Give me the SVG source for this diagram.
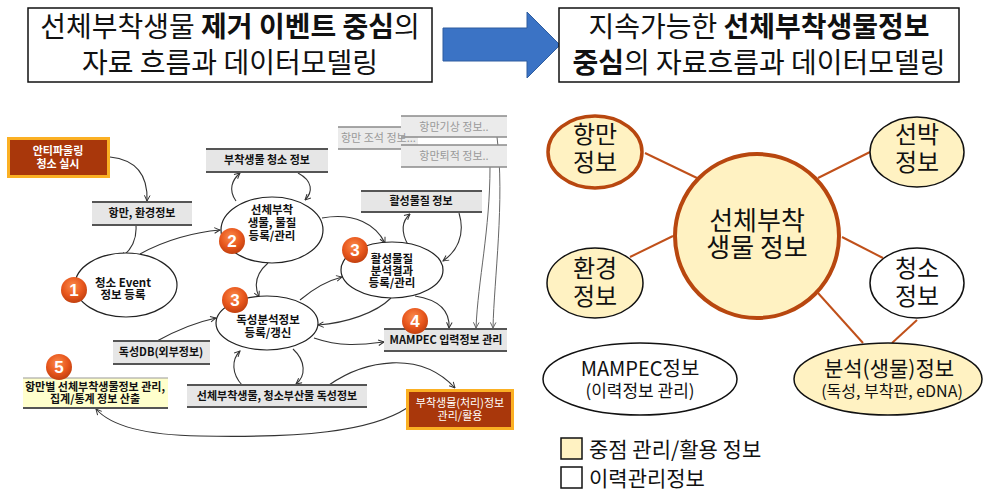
<svg xmlns="http://www.w3.org/2000/svg" width="983" height="491" viewBox="0 0 983 491">
<style>
text{font-family:"Noto Sans CJK KR","Noto Sans",sans-serif;}
.title{font-size:28px;fill:#111;text-anchor:middle;}
.b{font-weight:bold;}
.s{font-size:11px;font-weight:bold;fill:#111;text-anchor:middle;}
.se{font-size:11.5px;font-weight:bold;fill:#111;text-anchor:middle;}
.sg{font-size:11px;fill:#999;text-anchor:middle;}
.sw{font-size:11px;fill:#fff;text-anchor:middle;}
.store{fill:#E6E6E6;}
.storeline{stroke:#555;stroke-width:1.8;}
.fstore{fill:#EBEBEB;}
.fline{stroke:#8a8a8a;stroke-width:1.5;}
.ell{fill:#fff;stroke:#222;stroke-width:1.2;}
.arr{fill:none;stroke:#333;stroke-width:1.1;marker-end:url(#ah);}
.arrg{fill:none;stroke:#666;stroke-width:1;marker-end:url(#ahg);}
.num{font-family:"Liberation Sans",sans-serif;font-size:17px;font-weight:bold;fill:#fff;text-anchor:middle;}
.rl{stroke:#C0501A;stroke-width:2;}
.yel{fill:#FFF2C2;}
.rt{font-size:24px;fill:#111;text-anchor:middle;}
</style>
<defs>
<marker id="ah" viewBox="0 0 10 10" refX="9" refY="5" markerWidth="7" markerHeight="7" markerUnits="userSpaceOnUse" orient="auto">
<path d="M1,1 L9,5 L1,9" fill="none" stroke="#333" stroke-width="1.4"/>
</marker>
<marker id="ahg" viewBox="0 0 10 10" refX="9" refY="5" markerWidth="7" markerHeight="7" markerUnits="userSpaceOnUse" orient="auto">
<path d="M1,1 L9,5 L1,9" fill="none" stroke="#666" stroke-width="1.4"/>
</marker>
<radialGradient id="badge" cx="45%" cy="35%" r="65%">
<stop offset="0" stop-color="#FA8C4C"/>
<stop offset="0.6" stop-color="#E8571D"/>
<stop offset="1" stop-color="#C2400F"/>
</radialGradient>
</defs>
<rect width="983" height="491" fill="#fff"/>

<!-- Header -->
<g id="title-left">
<rect x="28" y="8" width="404" height="74" fill="#fff" stroke="#111" stroke-width="1.5"/>
<text class="title" x="230" y="37">선체부착생물 <tspan class="b">제거 이벤트 중심</tspan>의</text>
<text class="title" x="230" y="73">자료 흐름과 데이터모델링</text>
</g>
<g id="big-arrow">
<polygon points="443,28 527,28 527,12 560,45 527,78 527,61 443,61" fill="#3B73C5" stroke="#2E5D9F" stroke-width="1"/>
</g>
<g id="title-right">
<rect x="559" y="8" width="400" height="74" fill="#fff" stroke="#111" stroke-width="1.5"/>
<text class="title" x="759" y="37">지속가능한 <tspan class="b">선체부착생물정보</tspan></text>
<text class="title" x="759" y="73"><tspan class="b">중심</tspan>의 자료흐름과 데이터모델링</text>
</g>

<!-- Connectors -->
<g id="connectors">
<path class="arr" d="M110,157 C138,160 148,176 147,201"/>
<path class="arr" d="M136,226 C137,242 130,251 121,258"/>
<path class="arr" d="M140,254 C165,240 195,232 220,230"/>
<path class="arr" d="M236,201 C228,190 232,180 240,173"/>
<path class="arr" d="M298,173 C313,181 313,192 305,200"/>
<path class="arr" d="M322,218 C355,212 376,225 385,243"/>
<path class="arr" d="M268,263 C253,276 255,288 259,297"/>
<path class="arr" d="M408,245 C401,232 402,221 410,214"/>
<path class="arr" d="M459,213 C466,236 456,252 443,261"/>
<path class="arr" d="M300,300 C313,289 326,281 342,277"/>
<path class="arr" d="M391,298 C376,313 346,323 318,325"/>
<path class="arr" d="M415,296 C440,300 450,312 449,328"/>
<path class="arr" d="M314,338 C340,347 360,345 384,342"/>
<path class="arrg" d="M490,167 C490,230 478,280 476,328"/>
<path class="arrg" d="M497,137 C505,200 494,280 493,328"/>
<path class="arr" d="M157,341 C177,330 197,322 216,318"/>
<path class="arr" d="M293,349 C306,361 306,376 296,384"/>
<path class="arr" d="M242,385 C232,374 231,360 240,351"/>
<path class="arr" d="M329,385 C365,360 420,350 455,388"/>
<path class="arr" d="M407,408 C370,432 300,438 200,436 C140,435 110,425 96,409"/>
<line class="rl" x1="645" y1="153" x2="697" y2="178"/>
<line class="rl" x1="818" y1="178" x2="870" y2="152"/>
<line class="rl" x1="630" y1="257" x2="673" y2="236"/>
<line class="rl" x1="842" y1="237" x2="883" y2="258"/>
<line class="rl" x1="818" y1="293" x2="863" y2="343"/>
<line class="rl" x1="917" y1="320" x2="892" y2="343"/>
</g>

<!-- Left diagram nodes -->
<g id="antifouling">
<rect x="8.5" y="138.5" width="100" height="38" fill="#A9370B" stroke="#FBB023" stroke-width="3"/>
<text class="sw" x="58" y="155" font-weight="bold">안티파울링</text>
<text class="sw" x="58" y="168" font-weight="bold">청소 실시</text>
</g>
<g id="port-env-info">
<rect class="store" x="92" y="202" width="100" height="23"/>
<line class="storeline" x1="92" y1="202" x2="192" y2="202"/>
<line class="storeline" x1="92" y1="225" x2="192" y2="225"/>
<text class="s" x="142" y="217">항만, 환경정보</text>
</g>
<g id="cleaning-info">
<rect class="store" x="206" y="149" width="122" height="23"/>
<line class="storeline" x1="206" y1="149" x2="328" y2="149"/>
<line class="storeline" x1="206" y1="172" x2="328" y2="172"/>
<text class="s" x="267" y="164">부착생물 청소 정보</text>
</g>
<g id="tide-info">
<rect class="fstore" x="338" y="127" width="80" height="22"/>
<line class="fline" x1="338" y1="127" x2="402" y2="127"/>
<line class="fline" x1="338" y1="149" x2="402" y2="149"/>
</g>
<g id="weather-info">
<rect class="fstore" x="401" y="116" width="106" height="21"/>
<line class="fline" x1="401" y1="116" x2="507" y2="116"/>
<line class="fline" x1="401" y1="137" x2="507" y2="137"/>
<text class="sg" x="454" y="131">항만기상 정보..</text>
</g>
<g id="sediment-info">
<rect class="fstore" x="401" y="145" width="106" height="22"/>
<line class="fline" x1="401" y1="145" x2="507" y2="145"/>
<line class="fline" x1="401" y1="167" x2="507" y2="167"/>
<text class="sg" x="454" y="160">항만퇴적 정보..</text>
</g>
<text class="sg" x="341" y="142" style="text-anchor:start">항만 조석 정보...</text>
<g id="active-info">
<rect class="store" x="361" y="191" width="121" height="21"/>
<line class="storeline" x1="361" y1="191" x2="482" y2="191"/>
<line class="storeline" x1="361" y1="212" x2="482" y2="212"/>
<text class="s" x="421" y="205">활성물질 정보</text>
</g>
<g id="ellipse-2">
<ellipse class="ell" cx="272" cy="230" rx="51" ry="33"/>
<text class="se" x="272" y="214">선체부착</text>
<text class="se" x="272" y="227">생물, 물질</text>
<text class="se" x="272" y="240">등록/관리</text>
</g>
<g id="ellipse-1">
<ellipse class="ell" cx="126" cy="285" rx="51" ry="32"/>
<text class="se" x="123" y="287">청소 Event</text>
<text class="se" x="123" y="299">정보 등록</text>
</g>
<g id="ellipse-3a">
<ellipse class="ell" cx="392" cy="270" rx="51" ry="28"/>
<text class="se" x="392" y="263">활성물질</text>
<text class="se" x="392" y="275">분석결과</text>
<text class="se" x="392" y="287">등록/관리</text>
</g>
<g id="ellipse-3b">
<ellipse class="ell" cx="267" cy="323" rx="51" ry="27"/>
<text class="se" x="268" y="324">독성분석정보</text>
<text class="se" x="268" y="337">등록/갱신</text>
</g>
<g id="mampec-input">
<rect class="store" x="384" y="329" width="123" height="22"/>
<line class="storeline" x1="384" y1="329" x2="507" y2="329"/>
<line class="storeline" x1="384" y1="351" x2="507" y2="351"/>
<text class="s" x="446" y="344">MAMPEC 입력정보 관리</text>
</g>
<g id="tox-db">
<rect class="store" x="113" y="341" width="97" height="23"/>
<line class="storeline" x1="113" y1="341" x2="210" y2="341"/>
<line class="storeline" x1="113" y1="364" x2="210" y2="364"/>
<text class="s" x="161" y="356">독성DB(외부정보)</text>
</g>
<g id="tox-info">
<rect class="store" x="187" y="385" width="180" height="22"/>
<line class="storeline" x1="187" y1="385" x2="367" y2="385"/>
<line class="storeline" x1="187" y1="407" x2="367" y2="407"/>
<text class="s" x="277" y="400">선체부착생물, 청소부산물 독성정보</text>
</g>
<g id="port-summary">
<rect x="23" y="378" width="145" height="30" fill="#FFFFCC"/>
<line x1="23" y1="378" x2="168" y2="378" stroke="#999" stroke-width="1"/>
<line class="storeline" x1="23" y1="408" x2="168" y2="408"/>
<text class="s" x="95" y="391">항만별 선체부착생물정보 관리,</text>
<text class="s" x="95" y="403">집계/통계 정보 산출</text>
</g>
<g id="treatment-info">
<rect x="407.5" y="390.5" width="105" height="38" fill="#A9370B" stroke="#FBB023" stroke-width="3"/>
<text class="sw" x="460" y="407">부착생물(처리)정보</text>
<text class="sw" x="460" y="420">관리/활용</text>
</g>
<g id="badges">
<circle cx="74" cy="290" r="13" fill="url(#badge)"/><text class="num" x="74" y="296">1</text>
<circle cx="232" cy="241" r="13" fill="url(#badge)"/><text class="num" x="232" y="247">2</text>
<circle cx="355" cy="250" r="13" fill="url(#badge)"/><text class="num" x="355" y="256">3</text>
<circle cx="235" cy="300" r="13" fill="url(#badge)"/><text class="num" x="235" y="306">3</text>
<circle cx="415" cy="321" r="13" fill="url(#badge)"/><text class="num" x="415" y="327">4</text>
<circle cx="59" cy="367" r="13" fill="url(#badge)"/><text class="num" x="59" y="373">5</text>
</g>

<!-- Right diagram nodes -->
<g id="center">
<circle class="yel" cx="757" cy="236" r="82" stroke="#B8470F" stroke-width="4"/>
<text x="757" y="230" font-size="26" text-anchor="middle" fill="#111">선체부착</text>
<text x="757" y="257" font-size="26" text-anchor="middle" fill="#111">생물 정보</text>
</g>
<g id="port">
<ellipse class="yel" cx="595" cy="152" rx="47" ry="36" stroke="#B8470F" stroke-width="3.5"/>
<text class="rt" x="595" y="143">항만</text>
<text class="rt" x="595" y="171">정보</text>
</g>
<g id="ship">
<ellipse class="yel" cx="917" cy="152" rx="47" ry="35" stroke="#111" stroke-width="1.5"/>
<text class="rt" x="917" y="143">선박</text>
<text class="rt" x="917" y="171">정보</text>
</g>
<g id="env">
<ellipse class="yel" cx="595" cy="283" rx="48" ry="35" stroke="#111" stroke-width="1.5"/>
<text class="rt" x="595" y="277">환경</text>
<text class="rt" x="595" y="305">정보</text>
</g>
<g id="clean">
<ellipse cx="917" cy="283" rx="47" ry="35" fill="#fff" stroke="#111" stroke-width="1.5"/>
<text class="rt" x="917" y="277">청소</text>
<text class="rt" x="917" y="305">정보</text>
</g>
<g id="analysis">
<ellipse class="yel" cx="888" cy="379" rx="94" ry="36" stroke="#111" stroke-width="1.5"/>
<text x="889" y="376" font-size="21" text-anchor="middle" fill="#111">분석(생물)정보</text>
<text x="892" y="397" font-size="16" text-anchor="middle" fill="#111">(독성, 부착판, eDNA)</text>
</g>
<g id="mampec">
<ellipse cx="640" cy="379" rx="97" ry="36" fill="#fff" stroke="#111" stroke-width="1.5"/>
<text x="640" y="376" font-size="20" text-anchor="middle" fill="#111">MAMPEC정보</text>
<text x="640" y="397" font-size="17" text-anchor="middle" fill="#111">(이력정보 관리)</text>
</g>
<g id="legend">
<rect class="yel" x="561" y="438" width="21" height="21" stroke="#111" stroke-width="1.5"/>
<text x="589" y="457" font-size="21" fill="#111">중점 관리/활용 정보</text>
<rect x="561" y="467" width="21" height="21" fill="#fff" stroke="#111" stroke-width="1.5"/>
<text x="589" y="486" font-size="21" fill="#111">이력관리정보</text>
</g>
</svg>
